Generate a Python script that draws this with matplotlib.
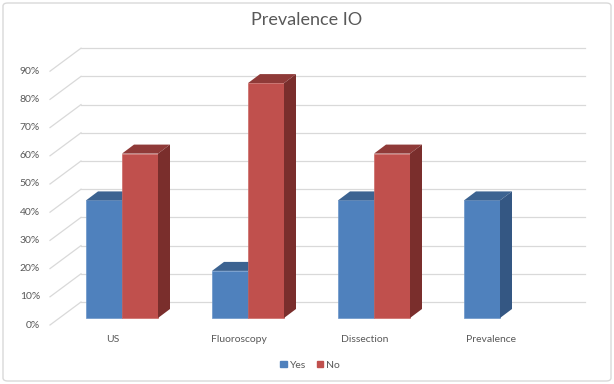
import numpy as np
import matplotlib
matplotlib.use('Agg')
import matplotlib.pyplot as plt
from matplotlib.patches import Polygon, Patch, FancyBboxPatch

categories = ['US', 'Fluoroscopy', 'Dissection', 'Prevalence']
yes_values = [41.7, 16.7, 41.7, 41.7]
no_values = [58.3, 83.3, 58.3, np.nan]
y_ticks = list(range(0, 100, 10))
y_tick_labels = [f'{t}%' for t in y_ticks]

# colours: front, top, side, edge
YES_COLORS = ('#4f81bd', '#3c6391', '#345783', '#6a95c8')
NO_COLORS = ('#c0504d', '#8f3a38', '#7a2e2c', '#cc6a67')
TEXT_COLOR = '#595959'
GRID_COLOR = '#d9d9d9'

# pixel layout of the fake 3d chart (figure is 614x384 at dpi 100)
W, H = 614, 384
PX_CAT0, PX_PER_CAT = 122, 126
PX_ZERO, PX_PER_PCT = 318, 2.82
BAR_W = 36 / PX_PER_CAT
BAR_DEPTH = (12 / PX_PER_CAT, 9 / PX_PER_PCT)
WALL = (22 / PX_PER_CAT, 16 / PX_PER_PCT)
FLOOR = (-9 / PX_PER_CAT, -7 / PX_PER_PCT)

plt.rcParams['font.family'] = ['Lato', 'DejaVu Sans']


def draw_bar(ax, left, value, colors, z):
    front, top, side, edge = colors
    ax.bar(left, value, width=BAR_W, align='edge', color=front,
           edgecolor=edge, linewidth=0.5, zorder=z)
    dx, dy = BAR_DEPTH
    right = left + BAR_W
    ax.add_patch(Polygon([(left, value), (right, value),
                          (right + dx, value + dy), (left + dx, value + dy)],
                         closed=True, facecolor=top, edgecolor='none',
                         zorder=z))
    ax.add_patch(Polygon([(right, 0), (right + dx, dy),
                          (right + dx, value + dy), (right, value)],
                         closed=True, facecolor=side, edgecolor='none',
                         zorder=z))


def main():
    fig = plt.figure(figsize=(W / 100, H / 100), dpi=100)
    ax = fig.add_axes([0, 0, 1, 1])
    ax.set_xlim(-PX_CAT0 / PX_PER_CAT, (W - PX_CAT0) / PX_PER_CAT)
    ax.set_ylim((PX_ZERO - H) / PX_PER_PCT, PX_ZERO / PX_PER_PCT)
    ax.axis('off')

    x_left, x_right = -0.5, len(categories) - 0.5

    # back wall gridlines and side wall diagonals
    for t, label in zip(y_ticks, y_tick_labels):
        ax.plot([x_left + WALL[0], x_right + WALL[0]],
                [t + WALL[1], t + WALL[1]],
                color=GRID_COLOR, lw=0.9, zorder=1)
        ax.plot([x_left + FLOOR[0], x_left + WALL[0]],
                [t + FLOOR[1], t + WALL[1]],
                color=GRID_COLOR, lw=0.9, zorder=1)
        ax.text(x_left + FLOOR[0] - 10 / PX_PER_CAT, t + FLOOR[1], label,
                ha='right', va='center', fontsize=7.5, color=TEXT_COLOR)

    z = 2
    for i, name in enumerate(categories):
        if not np.isnan(yes_values[i]):
            draw_bar(ax, i - BAR_W, yes_values[i], YES_COLORS, z)
            z += 1
        if not np.isnan(no_values[i]):
            draw_bar(ax, i, no_values[i], NO_COLORS, z)
            z += 1
        ax.text(i + FLOOR[0], FLOOR[1] - 15 / PX_PER_PCT, name,
                ha='center', va='center', fontsize=7.5, color=TEXT_COLOR)

    fig.text(0.5, 1 - 20 / H, 'Prevalence IO', ha='center', va='center',
             fontsize=13, color=TEXT_COLOR)

    handles = [Patch(color=YES_COLORS[0], label='Yes'),
               Patch(color=NO_COLORS[0], label='No')]
    fig.legend(handles=handles, loc='center', bbox_to_anchor=(0.505, 1 - 365 / H),
               ncol=2, frameon=False, fontsize=7.5, handlelength=0.6,
               handleheight=0.6, handletextpad=0.3, columnspacing=1.0,
               labelcolor=TEXT_COLOR)

    fig.patches.append(FancyBboxPatch(
        (3 / W, 3 / H), 1 - 6 / W, 1 - 6 / H,
        boxstyle='round,pad=0,rounding_size=0.008',
        transform=fig.transFigure, facecolor='none',
        edgecolor=GRID_COLOR, lw=1.0))

    fig.savefig('out.png', dpi=100)


if __name__ == '__main__':
    main()
